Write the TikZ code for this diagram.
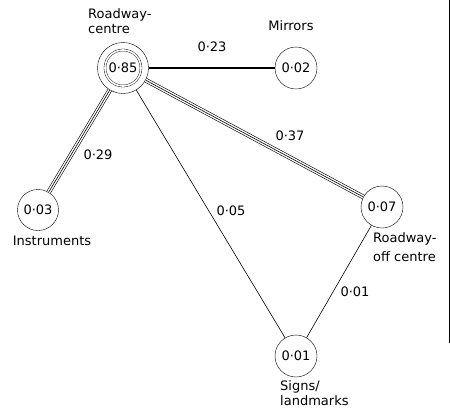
\documentclass[tikz,border=0pt]{standalone}
\usepackage{fontspec}
\setmainfont{DejaVu Sans}

\tikzset{
  factor/.style={draw, circle, minimum size=42pt, inner sep=0pt, font=\fontsize{13}{15.6}\selectfont},
  tag/.style={inner sep=0pt, font=\fontsize{13}{15.6}\selectfont},
  triple/.style={line width=0.6pt, preaction={draw, double, double distance=3.4pt, line width=0.6pt}},
  heavy/.style={line width=2.6pt},
  single/.style={line width=0.6pt}
}

\begin{document}
\begin{tikzpicture}[x=1pt,y=-1pt]
\useasboundingbox (0,0) rectangle (450,410);

% fixation points
\node[factor, minimum size=51pt] (centre) at (123,68) {};
\node[factor, minimum size=36pt, double, double distance=1.6pt] (centrein) at (123,68) {0·85};
\node[factor] (mirrors) at (296,68) {0·02};
\node[factor, minimum size=41pt] (instr) at (38,210) {0·03};
\node[factor] (offcentre) at (382,207) {0·07};
\node[factor] (signs) at (296,356) {0·01};

% links
\draw[heavy] (centre) -- (mirrors);
\draw[triple] (centre) -- (instr);
\draw[triple] (centre) -- (offcentre);
\draw[single] (centre) -- (signs);
\draw[single] (offcentre) -- (signs);

% link values
\node[tag] (p23) at (212,47) {0·23};
\node[tag] (p29) at (98,155) {0·29};
\node[tag] (p37) at (290,136) {0·37};
\node[tag] (p05) at (231,211) {0·05};
\node[tag] (p01) at (355,292) {0·01};

% names
\node[tag, align=left, anchor=west] (centrelbl) at (88,21) {Roadway-\\centre};
\node[tag] (mirrorslbl) at (291,26) {Mirrors};
\node[tag] (instrlbl) at (52,241) {Instruments};
\node[tag, align=left, anchor=west] (offcentrelbl) at (373,247) {Roadway-\\[4pt]off centre};
\node[tag, align=left, anchor=west] (signslbl) at (280,393) {Signs/\\[-1pt]landmarks};

% page edge
\draw[single] (449,0) -- (449,343);

\end{tikzpicture}
\end{document}
